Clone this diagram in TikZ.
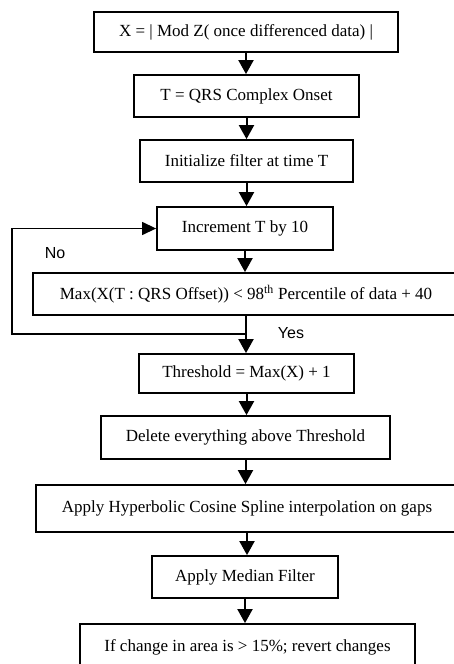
\documentclass[tikz,border=0pt]{standalone}
\usepackage{fontspec}
\setmainfont{Liberation Serif}
\newfontfamily\labelfont{Liberation Sans}
\usetikzlibrary{arrows.meta}
\begin{document}
\begin{tikzpicture}[x=1pt,y=-1pt,
  box/.style={draw, line width=1.8pt, inner sep=0pt, align=center, font=\fontsize{17}{20}\selectfont},
  flow/.style={line width=2pt, -{Triangle[length=14pt,width=15pt]}},
  loopline/.style={line width=1.3pt, -{Triangle[length=14pt,width=13pt]}},
  lbl/.style={font=\labelfont\fontsize{16}{19}\selectfont, inner sep=0pt}]
\useasboundingbox (0,0) rectangle (453,664);
\node[box, minimum width=304pt, minimum height=40pt] (b1) at (246,32) {X = | Mod Z( once differenced data) |};
\node[box, minimum width=225pt, minimum height=42pt] (b2) at (246.5,96) {T = QRS Complex Onset};
\node[box, minimum width=213pt, minimum height=42pt] (b3) at (246.5,161) {Initialize filter at time T};
\node[box, minimum width=176pt, minimum height=43pt] (b4) at (245,228.5) {Increment T by 10};
\node[box, minimum width=426pt, minimum height=42pt] (b5) at (246,294) {Max(X(T : QRS Offset)) {\textless} 98\textsuperscript{th} Percentile of data + 40};
\node[box, minimum width=215pt, minimum height=39pt] (b6) at (246.5,373.5) {Threshold = Max(X) + 1};
\node[box, minimum width=289pt, minimum height=43pt] (b7) at (245.5,437.5) {Delete everything above Threshold};
\node[box, minimum width=422pt, minimum height=47pt] (b8) at (247,508.5) {Apply Hyperbolic Cosine Spline interpolation on gaps};
\node[box, minimum width=186pt, minimum height=42pt] (b9) at (245,577) {Apply Median Filter};
\node[box, minimum width=335pt, minimum height=46pt] (b10) at (247.5,647) {If change in area is {\textgreater} 15\%; revert changes};
\draw[flow] (b1.south) -- (b1.south |- b2.north);
\draw[flow] (b2.south) -- (b2.south |- b3.north);
\draw[flow] (b3.south) -- (b3.south |- b4.north);
\draw[flow] (b4.south) -- (b4.south |- b5.north);
\draw[flow] (b5.south) -- (b5.south |- b6.north);
\draw[flow] (b6.south) -- (b6.south |- b7.north);
\draw[flow] (b7.south) -- (b7.south |- b8.north);
\draw[flow] (b8.south) -- (b8.south |- b9.north);
\draw[flow] (b9.south) -- (b9.south |- b10.north);
\coordinate (j) at (246,334);
\coordinate (c1) at (12,334);
\coordinate (c2) at (12,228.5);
\draw[loopline] (j) -- (c1) -- (c2) -- (b4.west);
\node[lbl] (no) at (55,253) {No};
\node[lbl] (yes) at (291,333) {Yes};
\end{tikzpicture}
\end{document}
